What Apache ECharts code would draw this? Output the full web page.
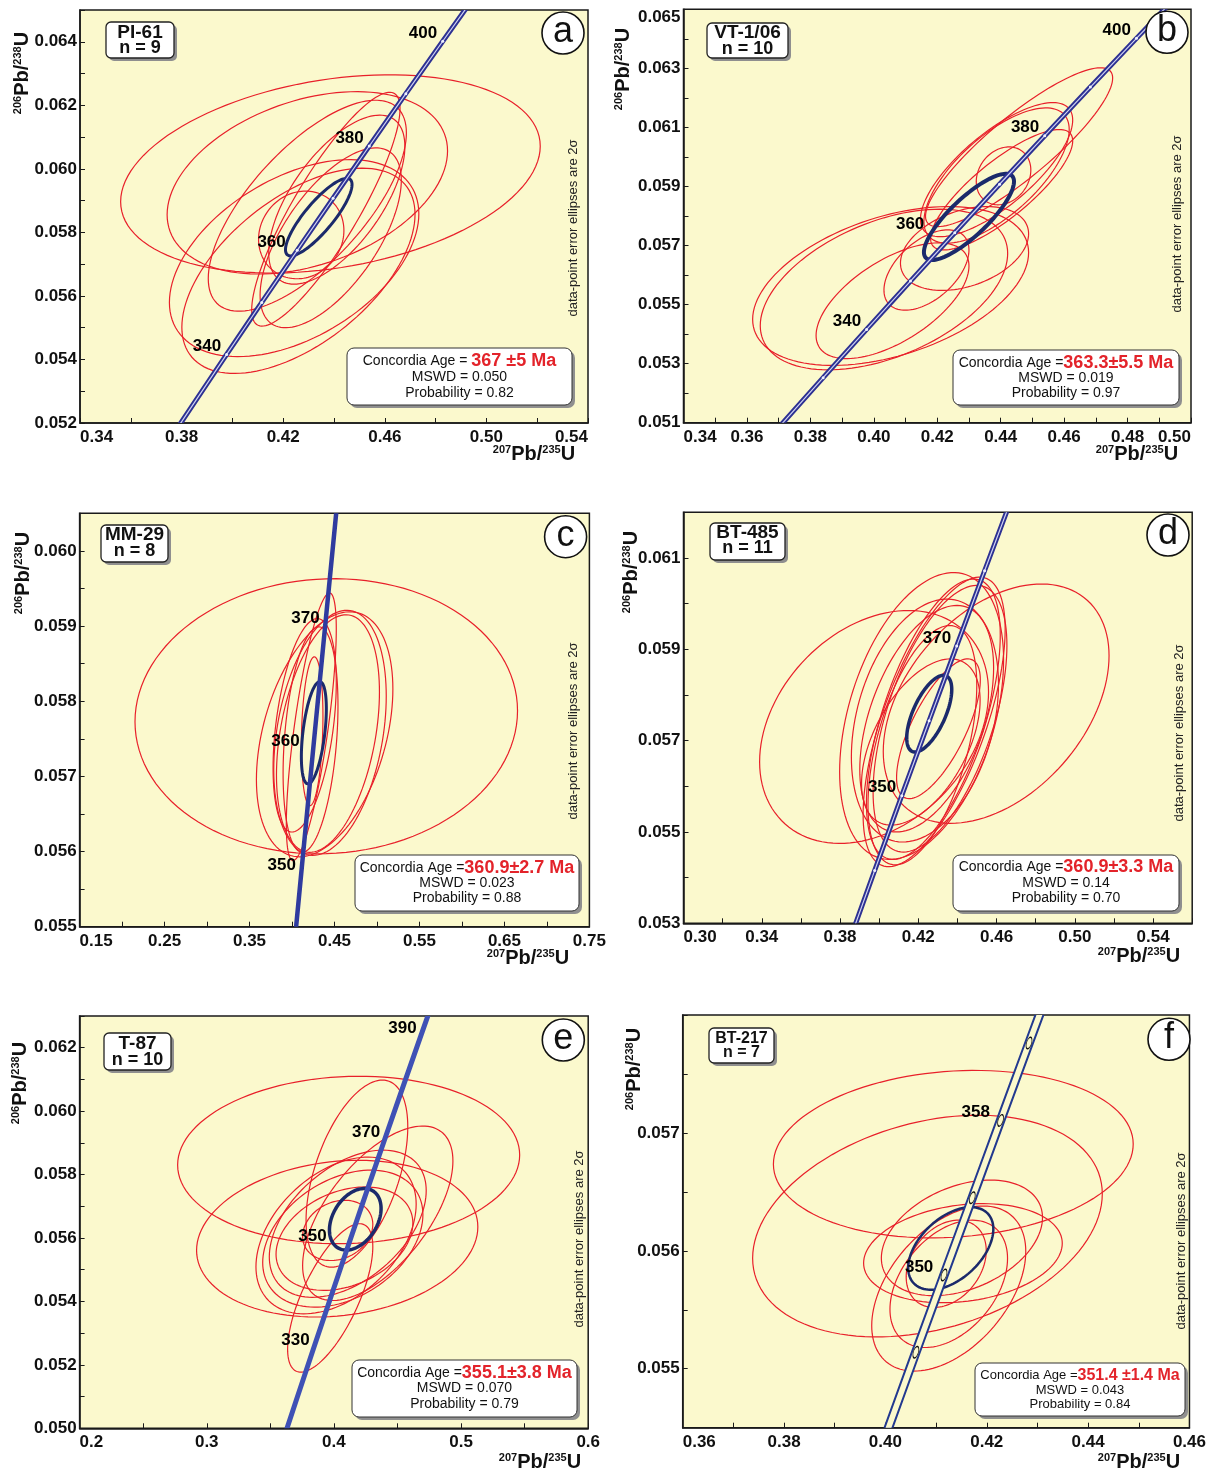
<!DOCTYPE html>
<html>
<head>
<meta charset="utf-8">
<script src="https://cdn.jsdelivr.net/npm/echarts@6/dist/echarts.min.js"></script>
<style>
html, body { margin: 0; padding: 0; background: #fff; }
#chart { width: 1209px; height: 1472px; }
</style>
</head>
<body>
<div id="chart"></div>
<script>
// Wetherill concordia, ages in Ma
var concAge = [300, 310, 320, 330, 340, 346, 350, 354, 358, 360, 362, 370, 380, 390, 400, 410, 420];
var conc207 = [0.34374, 0.35704, 0.37047, 0.38403, 0.39773, 0.40601, 0.41156, 0.41714, 0.42273, 0.42553, 0.42834, 0.43964, 0.45389, 0.46828, 0.48281, 0.49749, 0.51231];
var conc206 = [0.047637, 0.049264, 0.050893, 0.052524, 0.054158, 0.055140, 0.055795, 0.056450, 0.057106, 0.057434, 0.057762, 0.059075, 0.060720, 0.062366, 0.064016, 0.065667, 0.067322];

// error ellipses: [207Pb/235U, 2s, 206Pb/238U, 2s, rho]
var ellA = [
  [0.4386, 0.0826, 0.05984, 0.00312, 0.28],
  [0.4295, 0.0552, 0.05956, 0.00287, 0.35],
  [0.4368, 0.0292, 0.05873, 0.00368, 0.86],
  [0.4295, 0.0390, 0.05884, 0.00332, 0.69],
  [0.4411, 0.0268, 0.05903, 0.00266, 0.63],
  [0.4387, 0.0278, 0.05783, 0.00283, 0.64],
  [0.4243, 0.0491, 0.05719, 0.00310, 0.45],
  [0.4260, 0.0459, 0.05679, 0.00323, 0.55],
  [0.4271, 0.0168, 0.05792, 0.00138, 0.10]
];
var meanA = [0.4340, 0.0131, 0.05848, 0.00122, 0.84];

var ellB = [
  [0.4458, 0.0295, 0.06033, 0.00269, 0.87],
  [0.4387, 0.0240, 0.05957, 0.00227, 0.74],
  [0.4387, 0.0229, 0.05937, 0.00229, 0.68],
  [0.4403, 0.0224, 0.05889, 0.00204, 0.81],
  [0.4409, 0.0086, 0.05936, 0.00098, 0.20],
  [0.4053, 0.0435, 0.05563, 0.00269, 0.42],
  [0.4032, 0.0390, 0.05551, 0.00272, 0.45],
  [0.4059, 0.0241, 0.05513, 0.00196, 0.60],
  [0.4166, 0.0134, 0.05617, 0.00136, 0.50],
  [0.4286, 0.0202, 0.05690, 0.00142, 0.35]
];
var meanB = [0.4300, 0.0142, 0.05797, 0.00146, 0.82];

var ellC = [
  [0.4403, 0.2251, 0.05780, 0.00183, 0.04],
  [0.4227, 0.0294, 0.05766, 0.00178, 0.73],
  [0.4237, 0.0127, 0.05760, 0.00099, 0.20],
  [0.4384, 0.0803, 0.05756, 0.00163, 0.37],
  [0.4447, 0.0662, 0.05758, 0.00163, 0.30],
  [0.4423, 0.0606, 0.05757, 0.00158, 0.35],
  [0.4218, 0.0323, 0.05749, 0.00150, 0.30],
  [0.4149, 0.0372, 0.05768, 0.00142, 0.40]
];
var meanC = [0.4257, 0.0147, 0.05758, 0.00068, 0.47];

var ellD = [
  [0.3974, 0.0585, 0.05730, 0.00255, 0.30],
  [0.4598, 0.0577, 0.05781, 0.00262, 0.40],
  [0.4217, 0.0419, 0.05754, 0.00314, 0.39],
  [0.4281, 0.0363, 0.05741, 0.00317, 0.64],
  [0.4277, 0.0342, 0.05747, 0.00307, 0.60],
  [0.4234, 0.0376, 0.05744, 0.00266, 0.30],
  [0.4243, 0.0342, 0.05748, 0.00248, 0.45],
  [0.4213, 0.0303, 0.05697, 0.00182, 0.50],
  [0.4221, 0.0278, 0.05690, 0.00262, 0.50],
  [0.4303, 0.0214, 0.05726, 0.00153, 0.70],
  [0.4311, 0.0342, 0.05748, 0.00292, 0.55]
];
var meanD = [0.4256, 0.0115, 0.05759, 0.00084, 0.63];

var ellE = [
  [0.4116, 0.1345, 0.05846, 0.00264, 0.06],
  [0.4026, 0.1106, 0.05598, 0.00247, 0.15],
  [0.4181, 0.0400, 0.05803, 0.00295, 0.50],
  [0.4345, 0.0591, 0.05678, 0.00275, 0.60],
  [0.3971, 0.0335, 0.05411, 0.00234, 0.69],
  [0.4109, 0.0617, 0.05645, 0.00232, 0.45],
  [0.4017, 0.0630, 0.05608, 0.00247, 0.40],
  [0.4070, 0.0630, 0.05598, 0.00216, 0.35],
  [0.4083, 0.0538, 0.05598, 0.00163, 0.30],
  [0.4030, 0.0276, 0.05624, 0.00095, 0.20]
];
var meanE = [0.4168, 0.0203, 0.05659, 0.00097, 0.35];

var ellF = [
  [0.4134, 0.0355, 0.05682, 0.00071, 0.12],
  [0.4083, 0.0345, 0.05621, 0.00094, 0.29],
  [0.4153, 0.0196, 0.05598, 0.00042, 0.20],
  [0.4151, 0.0159, 0.05611, 0.00049, 0.35],
  [0.4125, 0.0152, 0.05568, 0.00070, 0.45],
  [0.4125, 0.0116, 0.05572, 0.00054, 0.40],
  [0.4120, 0.0079, 0.05589, 0.00037, 0.30]
];
var meanF = [0.4129, 0.0084, 0.05602, 0.00035, 0.47];

// tick labels
var xTicksA = ['0.34', '0.38', '0.42', '0.46', '0.50', '0.54'];
var yTicksA = ['0.052', '0.054', '0.056', '0.058', '0.060', '0.062', '0.064'];
var xTicksB = ['0.34', '0.36', '0.38', '0.40', '0.42', '0.44', '0.46', '0.48', '0.50'];
var yTicksB = ['0.051', '0.053', '0.055', '0.057', '0.059', '0.061', '0.063', '0.065'];
var xTicksC = ['0.15', '0.25', '0.35', '0.45', '0.55', '0.65', '0.75'];
var yTicksC = ['0.055', '0.056', '0.057', '0.058', '0.059', '0.060'];
var xTicksD = ['0.30', '0.34', '0.38', '0.42', '0.46', '0.50', '0.54'];
var yTicksD = ['0.053', '0.055', '0.057', '0.059', '0.061'];
var xTicksE = ['0.2', '0.3', '0.4', '0.5', '0.6'];
var yTicksE = ['0.050', '0.052', '0.054', '0.056', '0.058', '0.060', '0.062'];
var xTicksF = ['0.36', '0.38', '0.40', '0.42', '0.44', '0.46'];
var yTicksF = ['0.055', '0.056', '0.057'];

// sample annotations
var sampleName = ['PI-61', 'VT-1/06', 'MM-29', 'BT-485', 'T-87', 'BT-217'];
var sampleN = ['n = 9', 'n = 10', 'n = 8', 'n = 11', 'n = 10', 'n = 7'];
var concordiaAge = ['367 ±5 Ma', '363.3±5.5 Ma', '360.9±2.7 Ma', '360.9±3.3 Ma', '355.1±3.8 Ma', '351.4 ±1.4 Ma'];
var mswd = ['0.050', '0.019', '0.023', '0.14', '0.070', '0.043'];
var prob = ['0.82', '0.97', '0.88', '0.70', '0.79', '0.84'];

var FONT = '"Liberation Sans", Arial, Helvetica, sans-serif';
var RED = '#e8202a';
var NAVY = '#1b2a6b';
var BG = '#fbf9cd';

var panels = [
  { letter: 'a', ell: ellA, mean: meanA, xt: xTicksA, yt: yTicksA,
    grid: { left: 80, top: 10, width: 508, height: 413 }, x: [0.34, 0.54, 0.02], y: [0.052, 0.065, 0.001],
    ticks: [340, 350, 360, 370, 380, 390, 400], labels: [340, 360, 380, 400], shift: { 360: -6 },
    line: { color: '#2d3192', width: 5, inner: '#cfd2f2', innerWidth: 1.2 }, meanWidth: 3, dots: true,
    xMax: 'right', sbox: [106, 22, 174, 58], sy: [32.3, 48.3], circ: [563, 33], abox: [347, 348, 572, 405],
    ay: [361, 377, 393], pre: 'Concordia Age = ', side: [573, 228], yname: [22, 73], xname: [534, 454] },
  { letter: 'b', ell: ellB, mean: meanB, xt: xTicksB, yt: yTicksB,
    grid: { left: 683.5, top: 9.3, width: 507.5, height: 413.4 }, x: [0.34, 0.50, 0.01], y: [0.051, 0.065, 0.001],
    ticks: [330, 340, 350, 360, 370, 380, 390, 400], labels: [340, 360, 380, 400], shift: { 360: -25 },
    line: { color: '#2d3192', width: 5, inner: '#cfd2f2', innerWidth: 1.2 }, meanWidth: 4, dots: true,
    xMax: 'right', yMaxTop: true, sbox: [707, 23, 788, 58], sy: [32.3, 49.3], circ: [1167, 32.3], abox: [953, 350, 1179, 405],
    ay: [362.7, 377.7, 393.3], pre: 'Concordia Age =', side: [1177, 224], yname: [623, 69], xname: [1137, 454] },
  { letter: 'c', ell: ellC, mean: meanC, xt: xTicksC, yt: yTicksC,
    grid: { left: 79.6, top: 513.3, width: 509.8, height: 413.4 }, x: [0.15, 0.75, 0.05], y: [0.055, 0.0605, 0.0005],
    ticks: [350, 360, 370], labels: [350, 360, 370], shift: { 360: -8 }, labOff: -2, labDist: 6,
    line: { color: '#2f3b9f', width: 4.5 }, meanWidth: 3, dots: false,
    sbox: [101, 525, 168, 562], sy: [535, 550.7], circ: [565.6, 536.7], abox: [355, 855, 579, 911],
    ay: [867.7, 882.7, 898.3], pre: 'Concordia Age =', side: [573, 731], yname: [23, 573], xname: [528, 958] },
  { letter: 'd', ell: ellD, mean: meanD, xt: xTicksD, yt: yTicksD,
    grid: { left: 683.5, top: 512.3, width: 508.7, height: 411 }, x: [0.30, 0.56, 0.02], y: [0.053, 0.062, 0.001],
    ticks: [340, 350, 360, 370, 380, 390], labels: [350, 370], shift: {},
    line: { color: '#2d3192', width: 5, inner: '#cfd2f2', innerWidth: 1.2 }, meanWidth: 3.5, dots: true,
    sbox: [710, 523, 785, 560], sy: [532.7, 548.3], circ: [1168, 535], abox: [953, 855, 1179, 911],
    ay: [866.7, 882.7, 898.3], pre: 'Concordia Age =', side: [1179, 733], yname: [631, 572], xname: [1139, 956] },
  { letter: 'e', ell: ellE, mean: meanE, xt: xTicksE, yt: yTicksE,
    grid: { left: 79.6, top: 1016, width: 508.6, height: 412.3 }, x: [0.2, 0.6, 0.05], y: [0.050, 0.063, 0.001],
    ticks: [330, 350, 370, 390], labels: [330, 350, 370, 390], shift: { 350: -18 },
    line: { color: '#3f51b5', width: 5 }, meanWidth: 3.5, dots: false,
    sbox: [104, 1033, 171, 1070], sy: [1043.3, 1060], circ: [563.3, 1040], abox: [352, 1360, 577, 1417],
    ay: [1372.7, 1387.7, 1404], pre: 'Concordia Age =', side: [579, 1239], yname: [20, 1083], xname: [540, 1462] },
  { letter: 'f', ell: ellF, mean: meanF, xt: xTicksF, yt: yTicksF,
    grid: { left: 682.7, top: 1015, width: 510.3, height: 412.7 }, x: [0.36, 0.46, 0.01], y: [0.0545, 0.058, 0.0005],
    ticks: [346, 350, 354, 358, 362], labels: [350, 358], shift: {}, labDist: 6,
    line: { color: '#22398f', width: 9.5, inner: BG, innerWidth: 5.5 }, meanWidth: 2.5, dots: false, tickEll: true,
    small: true, sbox: [709, 1028, 774, 1063], sy: [1038.3, 1052.7], circ: [1169, 1039.3], abox: [975, 1363, 1185, 1416],
    ay: [1375.7, 1390, 1404.3], pre: 'Concordia Age =', side: [1181, 1241], yname: [634, 1069], xname: [1139, 1462] }
];

function tickFmt(list) {
  return function (v) {
    for (var i = 0; i < list.length; i++) {
      if (Math.abs(parseFloat(list[i]) - v) < 1e-9) return list[i];
    }
    return '';
  };
}

function ellipseItem(color, width) {
  return function (params, api) {
    var cx = api.value(0), sx = api.value(1), cy = api.value(2), sy = api.value(3), r = api.value(4);
    var k = Math.sqrt(1 - r * r);
    var pts = [];
    for (var i = 0; i < 120; i++) {
      var t = i / 120 * 2 * Math.PI;
      pts.push(api.coord([cx + sx * Math.cos(t), cy + sy * (r * Math.cos(t) + k * Math.sin(t))]));
    }
    return { type: 'polygon', shape: { points: pts }, style: { fill: 'none', stroke: color, lineWidth: width } };
  };
}

// concordia drawn as one polyline through all its points (exact clip to the grid)
function concordiaItem(line) {
  return function (params, api) {
    if (params.dataIndexInside !== 0) return null;
    var pts = [];
    for (var i = 0; i < params.dataInsideLength; i++) {
      pts.push(api.coord([api.value(0, i), api.value(1, i)]));
    }
    var kids = [{ type: 'polyline', shape: { points: pts },
      style: { fill: 'none', stroke: line.color, lineWidth: line.width, lineJoin: 'round' } }];
    if (line.inner) {
      kids.push({ type: 'polyline', shape: { points: pts },
        style: { fill: 'none', stroke: line.inner, lineWidth: line.innerWidth, lineJoin: 'round' } });
    }
    return { type: 'group', children: kids };
  };
}

function axisCommon(list, extra) {
  var o = {
    type: 'value',
    axisLine: { show: true, onZero: false, lineStyle: { color: '#1a1a1a', width: 1.5 } },
    axisTick: { show: true, inside: true, length: 5, lineStyle: { color: '#1a1a1a', width: 1 } },
    splitLine: { show: false },
    axisLabel: { formatter: tickFmt(list), color: '#111', fontSize: 17, fontWeight: 'bold',
      fontFamily: FONT, showMinLabel: true, showMaxLabel: true }
  };
  for (var k in extra) o[k] = extra[k];
  return o;
}

var concLine = concAge.map(function (a, k) { return [conc207[k], conc206[k]]; });

var grids = [], xAxes = [], yAxes = [], series = [], graphics = [];

panels.forEach(function (p, i) {
  grids.push({ left: p.grid.left, top: p.grid.top, width: p.grid.width, height: p.grid.height,
    show: true, backgroundColor: BG, borderColor: '#1a1a1a', borderWidth: 1.5 });

  var xa = axisCommon(p.xt, { gridIndex: i, min: p.x[0], max: p.x[1], interval: p.x[2] });
  xa.axisLabel.margin = 6;
  xa.axisLabel.alignMinLabel = 'left';
  if (p.xMax) xa.axisLabel.alignMaxLabel = p.xMax;
  xAxes.push(xa);

  var ya = axisCommon(p.yt, { gridIndex: i, min: p.y[0], max: p.y[1], interval: p.y[2] });
  ya.axisLabel.margin = 3;
  if (p.yMaxTop) ya.axisLabel.verticalAlignMaxLabel = 'top';
  yAxes.push(ya);

  series.push({ type: 'custom', xAxisIndex: i, yAxisIndex: i, data: p.ell, encode: { x: 0, y: 2 },
    renderItem: ellipseItem(RED, 1.2), clip: true, silent: true, z: 2 });
  series.push({ type: 'custom', xAxisIndex: i, yAxisIndex: i, data: [p.mean], encode: { x: 0, y: 2 },
    renderItem: ellipseItem(NAVY, p.meanWidth), clip: true, silent: true, z: 3 });
  series.push({ type: 'custom', xAxisIndex: i, yAxisIndex: i, data: concLine, encode: { x: 0, y: 1 },
    renderItem: concordiaItem(p.line), clip: true, silent: true, z: 4 });

  var tickData = p.ticks.map(function (age) {
    var k = concAge.indexOf(age);
    var item = { value: [conc207[k], conc206[k], age] };
    if (p.shift[age]) item.label = { offset: [p.shift[age], p.labOff != null ? p.labOff : -8] };
    return item;
  });
  var sym = 'circle', symSize = p.dots ? 3 : 0, itemStyle = { color: '#eef0ff', opacity: 1 };
  if (p.tickEll) {
    sym = 'path://M10,0A10,10,0,1,1,10,20A10,10,0,1,1,10,0Z';
    symSize = [5, 12];
    itemStyle = { color: 'rgba(0,0,0,0)', borderColor: '#111', borderWidth: 1, opacity: 1 };
  }
  series.push({ type: 'scatter', xAxisIndex: i, yAxisIndex: i, data: tickData, symbol: sym,
    symbolSize: symSize, symbolRotate: p.tickEll ? -17 : 0, itemStyle: itemStyle, silent: true, z: 6,
    label: { show: true, position: 'left', distance: p.labDist || 4,
      offset: [0, p.labOff != null ? p.labOff : -8], opacity: 1, textBorderWidth: 0,
      color: '#000', fontSize: 17, fontWeight: 'bold', fontFamily: FONT,
      formatter: function (pr) { return p.labels.indexOf(pr.value[2]) >= 0 ? String(pr.value[2]) : ''; } } });

  // sample label box
  var s = p.sbox, sw = s[2] - s[0], sh = s[3] - s[1], scx = (s[0] + s[2]) / 2;
  graphics.push({ type: 'rect', shape: { x: s[0] + 3, y: s[1] + 3, width: sw, height: sh, r: 5 },
    style: { fill: '#8f8f8f' }, z: 10 });
  graphics.push({ type: 'rect', shape: { x: s[0], y: s[1], width: sw, height: sh, r: 5 },
    style: { fill: '#fff', stroke: '#222', lineWidth: 1.3 }, z: 11 });
  graphics.push({ type: 'text', x: scx, y: p.sy[0], z: 12,
    style: { text: sampleName[i], font: 'bold ' + (p.small ? 16 : 19) + 'px ' + FONT, fill: '#111', align: 'center', verticalAlign: 'middle' } });
  graphics.push({ type: 'text', x: scx, y: p.sy[1], z: 12,
    style: { text: sampleN[i], font: 'bold ' + (p.small ? 16 : 18) + 'px ' + FONT, fill: '#111', align: 'center', verticalAlign: 'middle' } });

  // panel letter
  graphics.push({ type: 'circle', shape: { cx: p.circ[0], cy: p.circ[1], r: 21 },
    style: { fill: '#fff', stroke: '#111', lineWidth: 1.6 }, z: 11 });
  graphics.push({ type: 'text', x: p.circ[0], y: p.circ[1] - 1, z: 12,
    style: { text: p.letter, font: '36px ' + FONT, fill: '#111', align: 'center', verticalAlign: 'middle' } });

  // concordia age box
  var b = p.abox, bw = b[2] - b[0], bh = b[3] - b[1], bcx = (b[0] + b[2]) / 2;
  var fs = p.small ? 13 : 14, fr = p.small ? 16 : 18;
  graphics.push({ type: 'rect', shape: { x: b[0] + 3, y: b[1] + 3, width: bw, height: bh, r: 7 },
    style: { fill: '#8f8f8f' }, z: 10 });
  graphics.push({ type: 'rect', shape: { x: b[0], y: b[1], width: bw, height: bh, r: 7 },
    style: { fill: '#fff', stroke: '#333', lineWidth: 1 }, z: 11 });
  graphics.push({ type: 'text', x: bcx, y: p.ay[0], z: 12,
    style: { text: '{n|' + p.pre + '}{r|' + concordiaAge[i] + '}', align: 'center', verticalAlign: 'middle',
      rich: { n: { fontSize: fs, fontFamily: FONT, fill: '#111' },
              r: { fontSize: fr, fontWeight: 'bold', fontFamily: FONT, fill: '#e3232a' } } } });
  graphics.push({ type: 'text', x: bcx, y: p.ay[1], z: 12,
    style: { text: 'MSWD = ' + mswd[i], font: fs + 'px ' + FONT, fill: '#111', align: 'center', verticalAlign: 'middle' } });
  graphics.push({ type: 'text', x: bcx, y: p.ay[2], z: 12,
    style: { text: 'Probability = ' + prob[i], font: fs + 'px ' + FONT, fill: '#111', align: 'center', verticalAlign: 'middle' } });

  // side note
  graphics.push({ type: 'text', x: p.side[0], y: p.side[1], rotation: Math.PI / 2, z: 12,
    style: { text: 'data-point error ellipses are 2σ', font: '13px ' + FONT, fill: '#222', align: 'center', verticalAlign: 'middle' } });

  // axis names
  var richName = {
    s: { fontSize: 11, fontWeight: 'bold', fontFamily: FONT, fill: '#111', verticalAlign: 'top' },
    m: { fontSize: 20, fontWeight: 'bold', fontFamily: FONT, fill: '#111' }
  };
  graphics.push({ type: 'text', x: p.yname[0], y: p.yname[1], rotation: Math.PI / 2, z: 12,
    style: { text: '{s|206}{m|Pb/}{s|238}{m|U}', rich: richName, align: 'center', verticalAlign: 'middle' } });
  graphics.push({ type: 'text', x: p.xname[0], y: p.xname[1], z: 12,
    style: { text: '{s|207}{m|Pb/}{s|235}{m|U}', rich: richName, align: 'center', verticalAlign: 'middle' } });
});

var chart = echarts.init(document.getElementById('chart'));
chart.setOption({
  animation: false,
  backgroundColor: '#fff',
  grid: grids,
  xAxis: xAxes,
  yAxis: yAxes,
  series: series,
  graphic: graphics
});
</script>
</body>
</html>
